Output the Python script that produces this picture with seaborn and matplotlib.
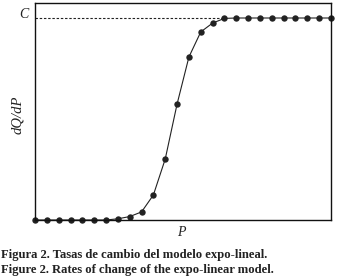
import matplotlib
matplotlib.use("Agg")
import matplotlib.pyplot as plt
import seaborn as sns
import pandas as pd

# Data
p_index = list(range(26))
rate = [0.0, 0.0, 0.0, 0.0, 0.0, 0.0, 0.0, 0.006, 0.017, 0.04, 0.124, 0.302,
        0.574, 0.807, 0.931, 0.975, 0.998, 1.0, 1.0, 1.0, 1.0, 1.0, 1.0, 1.0, 1.0, 1.0]
c_level = 1.0
caption_es = "Figura 2. Tasas de cambio del modelo expo-lineal."
caption_en = "Figure 2. Rates of change of the expo-linear model."

df = pd.DataFrame({"P": p_index, "rate": rate})

sns.set_theme(style="white")
plt.rcParams["font.family"] = ["Liberation Serif", "DejaVu Serif"]

fig = plt.figure(figsize=(3.38, 2.80), dpi=100)
ax = fig.add_axes([35/338, 1 - 220/280, 296/338, 217/280])

sns.lineplot(data=df, x="P", y="rate", ax=ax, color="#222222", linewidth=0.8,
             marker="o", markersize=4.6, markeredgewidth=0, clip_on=False)

ax.set_xlim(0, 25)
ax.set_ylim(0, 217/202)
ax.plot([0, 16], [c_level, c_level], linestyle=(0, (2.2, 1.6)), color="#222222",
        linewidth=0.8, zorder=1)

for s in ax.spines.values():
    s.set_color("#111111")
    s.set_linewidth(1.0)
ax.set_xticks([])
ax.set_yticks([])
ax.set_xlabel("")
ax.set_ylabel("")

fig.text(24/338, 1 - 15/280, "C", fontstyle="italic", fontsize=10,
         ha="center", va="center", color="#222222")
fig.text(18/338, 1 - 115/280, "dQ/dP", fontstyle="italic", fontsize=10.5,
         rotation=90, ha="center", va="center", color="#222222")
fig.text(181/338, 1 - 233/280, "P", fontstyle="italic", fontsize=10,
         ha="center", va="center", color="#222222")
fig.text(1/338, 1 - 255/280, caption_es, fontweight="bold", fontsize=9.1,
         ha="left", va="center", color="#222222")
fig.text(1/338, 1 - 270/280, caption_en, fontweight="bold", fontsize=9.1,
         ha="left", va="center", color="#222222")

fig.savefig("out.png", dpi=100)
